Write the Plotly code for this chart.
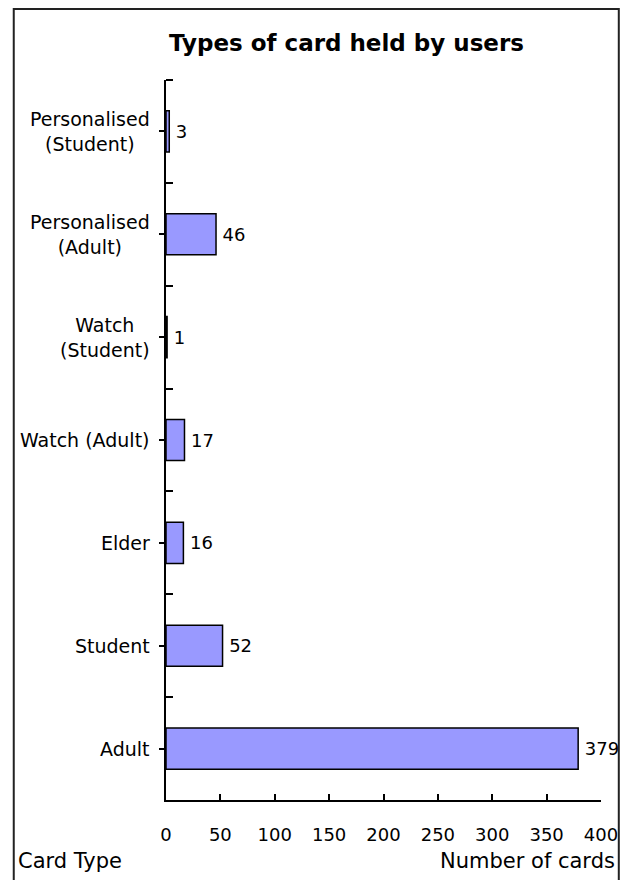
import plotly.graph_objects as go

categories = ["Adult", "Student", "Elder", "Watch (Adult)", "Watch<br>(Student)",
              "Personalised<br>(Adult)", "Personalised<br>(Student)"]
values = [379, 52, 16, 17, 1, 46, 3]
x_ticks = [0, 50, 100, 150, 200, 250, 300, 350, 400]

FONT = "DejaVu Sans"
FS = 18

L, R, T, B = 166, 606, 80, 800
W, H = R - L, B - T


def px(x):
    return (x - L) / W


def py(y):
    return (B - y) / H


positions = list(range(len(categories)))

fig = go.Figure()
fig.add_trace(go.Bar(
    x=values, y=positions, orientation="h",
    width=0.4,
    marker=dict(color="#9999FF", line=dict(color="black", width=1.5)),
    text=["\u2009" + str(v) for v in values], textposition="outside",
    constraintext="none",
    textfont=dict(family=FONT, size=FS, color="black"),
    cliponaxis=False, hoverinfo="skip",
))

annotations = []
for p, c in zip(positions, categories):
    annotations.append(dict(
        x=0, xref="paper", xanchor="right", xshift=-14,
        y=p, yref="y", yanchor="middle",
        text=c, showarrow=False, align="center",
        font=dict(family=FONT, size=19, color="black"),
    ))
annotations.append(dict(
    x=px(349), xref="paper", y=py(43), yref="paper",
    xanchor="center", yanchor="middle", showarrow=False,
    text="<b>Types of card held by users</b>",
    font=dict(family=FONT, size=23, color="black"),
))
annotations.append(dict(
    x=px(14), xref="paper", y=py(861), yref="paper",
    xanchor="left", yanchor="middle", showarrow=False,
    text="Card Type", font=dict(family=FONT, size=21, color="black"),
))
annotations.append(dict(
    x=px(622), xref="paper", y=py(861), yref="paper",
    xanchor="right", yanchor="middle", showarrow=False,
    text="Number of cards", font=dict(family=FONT, size=21, color="black"),
))

fig.update_layout(
    width=630, height=880,
    margin=dict(l=L, r=630 - R, t=T, b=880 - B),
    paper_bgcolor="white", plot_bgcolor="white",
    showlegend=False,
    annotations=annotations,
    font=dict(family=FONT, size=FS, color="black"),
    shapes=[dict(
        type="rect", xref="paper", yref="paper",
        x0=px(12), x1=px(624),
        y0=py(895), y1=py(9),
        line=dict(color="#222222", width=2), fillcolor="rgba(0,0,0,0)",
        layer="above",
    )],
    xaxis=dict(
        range=[0, 400], tickvals=x_ticks, ticktext=[str(t) for t in x_ticks],
        showline=True, linecolor="black", linewidth=2,
        ticks="inside", ticklen=6, tickwidth=1.5, tickcolor="black",
        showgrid=False, zeroline=False,
        ticklabelstandoff=17,
        tickfont=dict(family=FONT, size=FS, color="black"),
    ),
    yaxis=dict(
        range=[-0.5, 6.5], tickvals=positions,
        showticklabels=False,
        showline=True, linecolor="black", linewidth=2,
        ticks="outside", ticklen=5, tickwidth=1.5, tickcolor="black",
        minor=dict(tickvals=[p + 0.5 for p in positions], ticks="inside",
                   ticklen=7, tickwidth=1.5, tickcolor="black", showgrid=False),
        showgrid=False, zeroline=False,
    ),
)

fig.write_html(
    "out.html",
    config={"displayModeBar": False},
    post_script="document.body.style.margin='0';document.body.style.overflow='hidden';",
)
